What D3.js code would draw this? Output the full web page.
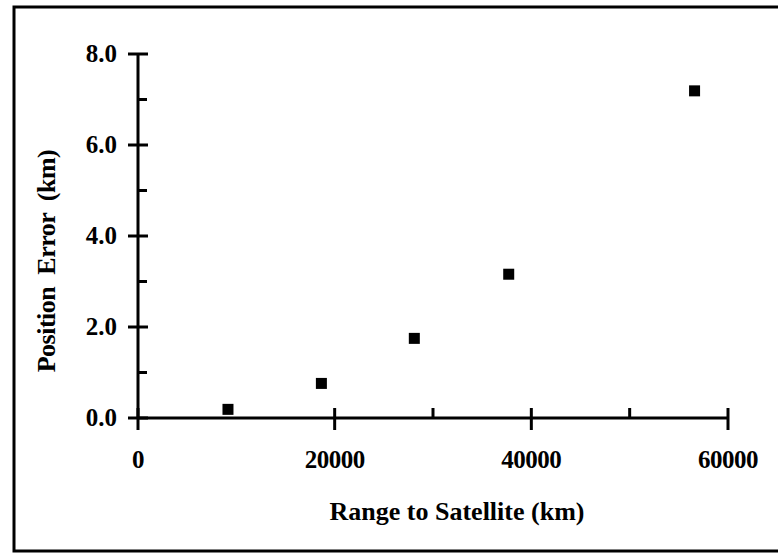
<!DOCTYPE html>
<html>
  <head>
    <script src="https://d3js.org/d3.v7.min.js"></script>
    <style>
      body { margin: 0; background: #fff; }
      text { font-family: "Liberation Serif", "Times New Roman", serif; font-weight: bold; fill: #000; }
      .tick-label { font-size: 25px; }
      .axis-title { font-size: 26px; }
    </style>
  </head>
  <body>
    <svg width="778" height="554"></svg>
    <script>
      // range to satellite (km) and position error (km)
      const ranges = [9150, 18650, 28100, 37700, 56600];
      const errors = [0.19, 0.76, 1.75, 3.16, 7.19];
      const xMajor = [0, 20000, 40000, 60000];
      const xMinor = [30000, 50000];
      const yMajor = [0, 2, 4, 6, 8];
      const yMinor = [1, 3, 5, 7];

      const svg = d3.select("svg");
      const x = d3.scaleLinear().domain([0, 60000]).range([138, 728]);
      const y = d3.scaleLinear().domain([0, 8]).range([418, 54]);

      // frame
      svg.append("rect")
        .attr("x", 14).attr("y", 7)
        .attr("width", 780).attr("height", 544)
        .attr("fill", "none").attr("stroke", "#000").attr("stroke-width", 3);

      const line = (x1, y1, x2, y2, w) => svg.append("line")
        .attr("x1", x1).attr("y1", y1).attr("x2", x2).attr("y2", y2)
        .attr("stroke", "#000").attr("stroke-width", w);

      // axes lines
      line(x(0), y(0), x(60000), y(0), 3);
      line(x(0), y(0), x(0), y(8), 3);

      yMajor.forEach(v => line(x(0) - 10, y(v), x(0) + 10, y(v), 3));
      yMinor.forEach(v => line(x(0), y(v), x(0) + 9, y(v), 3));
      xMajor.forEach(v => line(x(v), y(0) - 10, x(v), y(0) + 12, 3));
      xMinor.forEach(v => line(x(v), y(0) - 10, x(v), y(0), 3));

      svg.selectAll(".ylab").data(yMajor).enter().append("text")
        .attr("class", "tick-label")
        .attr("x", 117).attr("y", d => y(d)).attr("dy", "0.33em")
        .attr("text-anchor", "end")
        .text(d => d.toFixed(1));

      svg.selectAll(".xlab").data(xMajor).enter().append("text")
        .attr("class", "tick-label")
        .attr("x", d => x(d)).attr("y", 468)
        .attr("text-anchor", "middle")
        .attr("letter-spacing", "-0.5")
        .text(d => d);

      svg.append("text").attr("class", "axis-title")
        .attr("x", 457).attr("y", 520)
        .attr("text-anchor", "middle")
        .text("Range to Satellite (km)");

      svg.append("text").attr("class", "axis-title")
        .attr("transform", "translate(55,261) rotate(-90)")
        .attr("text-anchor", "middle")
        .attr("letter-spacing", "-0.5")
        .style("white-space", "pre")
        .text("Position  Error  (km)");

      svg.selectAll(".pt").data(ranges).enter().append("rect")
        .attr("x", (d, i) => x(d) - 5.5)
        .attr("y", (d, i) => y(errors[i]) - 5.5)
        .attr("width", 11).attr("height", 11)
        .attr("fill", "#000");
    </script>
  </body>
</html>
